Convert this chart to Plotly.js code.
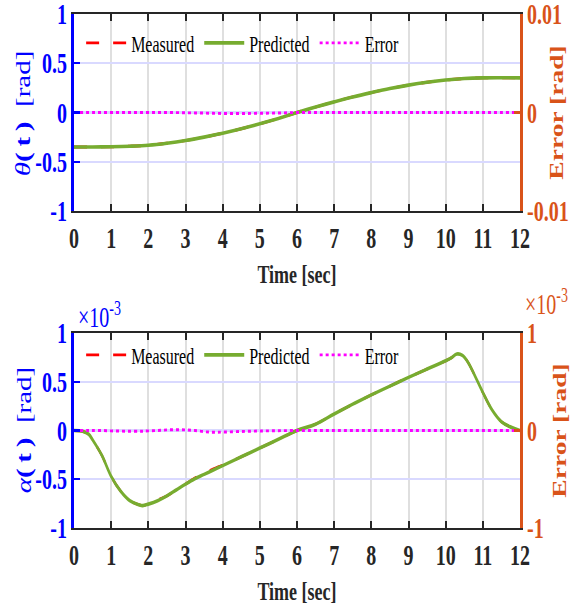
<!DOCTYPE html>
<html>
<head>
<meta charset="utf-8">
<script src="https://cdn.plot.ly/plotly-3.0.1.min.js"></script>
<style>
  html, body { margin: 0; padding: 0; background: #ffffff; overflow: hidden; }
  #wrap { width: 580px; height: 606px; overflow: hidden; }
  #plot { width: 580px; height: 418px; transform-origin: 0 0; transform: scale(1, 1.4498); }
</style>
</head>
<body>
<div id="wrap"><div id="plot"></div></div>
<script>
// ---------- data ----------
const tTop = [0,0.5,1,1.5,2,2.5,3,3.5,4,4.5,5,5.5,6,6.5,7,7.5,8,8.5,9,9.5,10,10.5,11,11.5,12];
const thetaMeasured  = [-0.350,-0.350,-0.348,-0.342,-0.332,-0.312,-0.285,-0.250,-0.210,-0.165,-0.115,-0.060,0.000,0.055,0.108,0.158,0.202,0.243,0.278,0.307,0.330,0.345,0.352,0.353,0.352];
const thetaPredicted = [-0.350,-0.350,-0.348,-0.342,-0.332,-0.312,-0.285,-0.250,-0.210,-0.165,-0.115,-0.060,0.000,0.055,0.108,0.158,0.202,0.243,0.278,0.307,0.330,0.345,0.352,0.353,0.352];
const thetaError     = [0,0,0,0,0,0,-0.00003,-0.00006,-0.0001,-0.0001,-0.00008,-0.00005,0,0,0,0,0,0,0,0,0,0,0,0,0];

const tBot = [0,0.25,0.4,0.5,0.75,1,1.25,1.5,1.75,1.85,2,2.25,2.5,2.75,3,3.25,3.5,3.75,4,4.5,5,5.5,6,6.5,7,7.5,8,8.5,9,9.5,10,10.15,10.3,10.45,10.6,10.75,11,11.25,11.5,11.75,12];
// values in units of 1e-3 rad
const alphaMeasuredE3  = [0,-0.01,-0.04,-0.095,-0.255,-0.47,-0.62,-0.72,-0.762,-0.77,-0.755,-0.712,-0.67,-0.61,-0.55,-0.488,-0.44,-0.395,-0.355,-0.27,-0.18,-0.09,0,0.065,0.17,0.27,0.365,0.455,0.545,0.63,0.715,0.745,0.785,0.77,0.70,0.59,0.39,0.21,0.09,0.035,0];
const alphaPredictedE3 = [0,-0.01,-0.04,-0.095,-0.255,-0.47,-0.62,-0.72,-0.762,-0.77,-0.755,-0.72,-0.67,-0.61,-0.55,-0.495,-0.45,-0.405,-0.36,-0.27,-0.18,-0.09,0,0.065,0.17,0.27,0.365,0.455,0.545,0.63,0.715,0.745,0.785,0.77,0.70,0.59,0.39,0.21,0.09,0.035,0];
const alphaErrorE3     = [0,0,0,0,0,-0.004,-0.006,-0.008,-0.008,-0.007,-0.004,0,0.006,0.008,0.006,0,-0.012,-0.018,-0.016,-0.01,-0.005,-0.002,0,0,0,0,0,0,0,0,0,0,0,0,0,0,0,0,0,0,0];

const xTicks = [0,1,2,3,4,5,6,7,8,9,10,11,12];
const yTickVals = [-1,-0.5,0,0.5,1];
const yTickText = ['-1','-0.5','0','0.5','1'];
const eTopVals = [-0.01,0,0.01];
const eTopText = ['-0.01','0','0.01'];
const eBotVals = [-1,0,1];
const eBotText = ['-1','0','1'];

// ---------- style ----------
const FONT = 'Liberation Serif, Times New Roman, serif';
const BLUE = '#0000FF', ORANGE = '#D95319', DARK = '#262626';
const RED = '#FF0000', GREEN = '#77AC30', MAGENTA = '#FF00FF';
const H = 418;

function xAxis(anchor) {
  return {
    anchor: anchor, domain: [0, 1], range: [0, 12],
    tickmode: 'array', tickvals: xTicks, ticktext: xTicks.map(String),
    ticks: 'inside', ticklen: 5, tickwidth: 2, tickcolor: DARK,
    showline: true, linecolor: DARK, linewidth: 1.5, mirror: 'ticks',
    showgrid: true, gridcolor: '#DFDFDF', gridwidth: 2, zeroline: false,
    ticklabeloverflow: 'allow',
    tickfont: {family: FONT, size: 20, color: DARK, weight: 'bold'},
    title: {text: '<b>Time [sec]</b>', font: {family: FONT, size: 18, color: DARK}, standoff: 8}
  };
}
function yLeft(domain, anchor) {
  return {
    anchor: anchor, domain: domain, range: [-1, 1],
    tickmode: 'array', tickvals: yTickVals, ticktext: yTickText,
    ticks: 'inside', ticklen: 6, tickwidth: 1.5, tickcolor: BLUE,
    showline: true, linecolor: BLUE, linewidth: 3,
    showgrid: true, gridcolor: '#D9D9FF', gridwidth: 1.5, zeroline: false,
    ticklabeloverflow: 'allow',
    tickfont: {family: FONT, size: 20, color: BLUE, weight: 'bold'}
  };
}
function yRight(overlay, anchor, range, vals, text) {
  return {
    overlaying: overlay, side: 'right', anchor: anchor, range: range,
    tickmode: 'array', tickvals: vals, ticktext: text,
    ticks: 'inside', ticklen: 6, tickwidth: 1.5, tickcolor: ORANGE,
    showline: true, linecolor: ORANGE, linewidth: 3,
    showgrid: false, zeroline: false,
    ticklabeloverflow: 'allow',
    tickfont: {family: FONT, size: 20, color: ORANGE, weight: 'bold'}
  };
}

const traces = [
  {x: tTop, y: thetaMeasured, xaxis: 'x', yaxis: 'y', name: 'Measured', mode: 'lines', line: {color: RED, width: 2, dash: '13px,14px', shape: 'spline'}, legend: 'legend'},
  {x: tTop, y: thetaPredicted, xaxis: 'x', yaxis: 'y', name: 'Predicted', mode: 'lines', line: {color: GREEN, width: 2.5, shape: 'spline'}, legend: 'legend'},
  {x: tTop, y: thetaError, xaxis: 'x', yaxis: 'y2', name: 'Error', mode: 'lines', line: {color: MAGENTA, width: 2, dash: '3px,3px', shape: 'spline'}, legend: 'legend'},
  {x: tBot, y: alphaMeasuredE3, xaxis: 'x2', yaxis: 'y3', name: 'Measured', mode: 'lines', line: {color: RED, width: 2, dash: '13px,14px', shape: 'spline'}, legend: 'legend2'},
  {x: tBot, y: alphaPredictedE3, xaxis: 'x2', yaxis: 'y3', name: 'Predicted', mode: 'lines', line: {color: GREEN, width: 2.5, shape: 'spline'}, legend: 'legend2'},
  {x: tBot, y: alphaErrorE3, xaxis: 'x2', yaxis: 'y4', name: 'Error', mode: 'lines', line: {color: MAGENTA, width: 2, dash: '3px,3px', shape: 'spline'}, legend: 'legend2'}
];

function py(realY) { return 1 - (realY / 1.4498) / H; }
function px(realX) { return (realX - 74) / 446; }

const legendStyle = {
  orientation: 'h', xanchor: 'left', yanchor: 'middle',
  bgcolor: 'rgba(255,255,255,0)', borderwidth: 0, itemwidth: 40,
  font: {family: FONT, size: 16, color: '#000000'}
};

const layout = {
  width: 580, height: H,
  margin: {l: 74, r: 60, t: 0, b: 0},
  paper_bgcolor: '#ffffff', plot_bgcolor: '#ffffff',
  font: {family: FONT},
  showlegend: true,
  xaxis: xAxis('y'),
  yaxis: yLeft([py(211), py(14)], 'x'),
  yaxis2: yRight('y', 'x', [-0.01, 0.01], eTopVals, eTopText),
  xaxis2: xAxis('y3'),
  yaxis3: yLeft([py(528), py(333)], 'x2'),
  yaxis4: yRight('y3', 'x2', [-1, 1], eBotVals, eBotText),
  legend: Object.assign({}, legendStyle, {x: 0.016, y: py(43)}),
  legend2: Object.assign({}, legendStyle, {x: 0.016, y: py(355)}),
  annotations: [
    {xref: 'paper', yref: 'paper', x: px(24), y: py(114), xanchor: 'center', yanchor: 'middle', showarrow: false, textangle: -90,
     text: '<i>θ</i><b>(\u2009t\u2009)</b>\u2002[rad]', font: {family: FONT, size: 20, color: BLUE}},
    {xref: 'paper', yref: 'paper', x: px(24), y: py(431), xanchor: 'center', yanchor: 'middle', showarrow: false, textangle: -90,
     text: '<i>α</i><b>(\u2009t\u2009)</b>\u2002[rad]', font: {family: FONT, size: 20, color: BLUE}},
    {xref: 'paper', yref: 'paper', x: px(76), y: py(314), xanchor: 'left', yanchor: 'middle', showarrow: false,
     text: '×10<sup>-3</sup>', font: {family: FONT, size: 20, color: BLUE}},
    {xref: 'paper', yref: 'paper', x: px(523), y: py(302), xanchor: 'left', yanchor: 'middle', showarrow: false,
     text: '×10<sup>-3</sup>', font: {family: FONT, size: 20, color: ORANGE}},
    {xref: 'paper', yref: 'paper', x: px(557), y: py(113), xanchor: 'center', yanchor: 'middle', showarrow: false, textangle: -90,
     text: '<b>Error [rad]</b>', font: {family: FONT, size: 19, color: ORANGE}},
    {xref: 'paper', yref: 'paper', x: px(559), y: py(431), xanchor: 'center', yanchor: 'middle', showarrow: false, textangle: -90,
     text: '<b>Error [rad]</b>', font: {family: FONT, size: 19, color: ORANGE}}
  ]
};

Plotly.newPlot('plot', traces, layout, {displayModeBar: false, responsive: false, staticPlot: true});
</script>
</body>
</html>
